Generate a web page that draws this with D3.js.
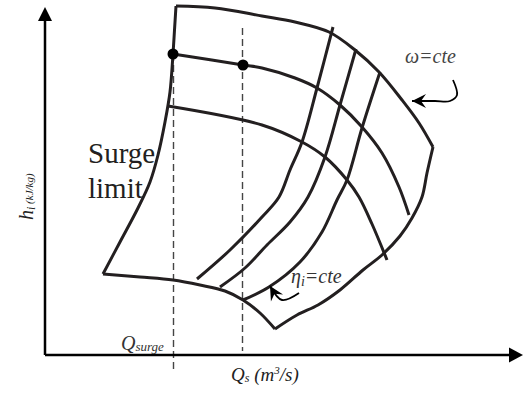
<!DOCTYPE html>
<html>
<head>
<meta charset="utf-8">
<script src="https://cdn.jsdelivr.net/npm/d3@7"></script>
<style>
  html, body { margin: 0; padding: 0; background: #fff; }
</style>
</head>
<body>
<svg id="map" width="524" height="394"></svg>
<script>
// compressor map, schematic units: Q (flow) and h (head)
var topSpeed = [[131,349],[170,347],[217,339],[250,333],[284,323],[310,305],[334,283],[357,255],[374,232],[388,208]];
var chokeEdge = [[388,208],[382,182],[377,158],[367,137],[355,119],[337,100],[318,85],[295,65],[273,50],[252,40],[230,26]];
var lowSpeed = [[230,26],[215,42],[198,55],[180,64],[155,70],[128,75],[95,78],[58,81]];
var surgeLine = [[58,81],[75,113],[93,147],[105,173],[113,200],[120,233],[125,263],[128,301],[129.5,325],[131,349]];

var speed1 = [[128,301],[198,290],[217,287],[250,277],[272,267],[295,250],[317,228],[337,202],[354,168],[364,140]];
var speed2 = [[123,249],[217,230],[257,213],[280,198],[302,175],[314,158],[327,131],[342,95]];

var etaA = [[152,76],[185,105],[217,138],[234,158],[245,185],[257,213],[272,267],[288,328]];
var etaB = [[175,68],[200,87],[222,110],[245,133],[263,158],[280,198],[295,250],[311,306]];
var etaC = [[198,55],[224,68],[255,93],[277,123],[292,155],[302,175],[317,227],[335,283]];

var points = [[128,301],[198,290]];
var qSurge = 128.5, qOp = 197.5;

var svg = d3.select("#map");
var x = d3.scaleLinear().domain([0, 480]).range([45, 525]);
var y = d3.scaleLinear().domain([0, 350]).range([355, 5]);
var ink = "#231f20";

var line = d3.line()
  .x(function(d) { return x(d[0]); })
  .y(function(d) { return y(d[1]); })
  .curve(d3.curveCatmullRom.alpha(0.5));

// dashed guides
svg.append("line").attr("x1", x(qSurge)).attr("x2", x(qSurge)).attr("y1", y(301)).attr("y2", y(-15))
  .attr("stroke", "#444").attr("stroke-width", 1.4).attr("stroke-dasharray", "7,4");
svg.append("line").attr("x1", x(qOp)).attr("x2", x(qOp)).attr("y1", y(327)).attr("y2", y(4))
  .attr("stroke", "#444").attr("stroke-width", 1.4).attr("stroke-dasharray", "7,4");

// axes
svg.append("line").attr("x1", x(0)).attr("y1", y(0)).attr("x2", x(0)).attr("y2", y(335))
  .attr("stroke", "#000").attr("stroke-width", 2.5);
svg.append("line").attr("x1", x(0)).attr("y1", y(0)).attr("x2", x(466)).attr("y2", y(0))
  .attr("stroke", "#000").attr("stroke-width", 2.5);
svg.append("path")
  .attr("d", "M" + x(0) + "," + y(348) + "L" + (x(0) - 7) + "," + y(334) + "L" + (x(0) + 7) + "," + y(334) + "Z")
  .attr("fill", "#000");
svg.append("path")
  .attr("d", "M" + x(478) + "," + y(0) + "L" + x(464) + "," + (y(0) - 7.5) + "L" + x(464) + "," + (y(0) + 7.5) + "Z")
  .attr("fill", "#000");

// map lines
[topSpeed, chokeEdge, lowSpeed, surgeLine, speed1, speed2, etaA, etaB, etaC].forEach(function(s) {
  svg.append("path").attr("d", line(s))
    .attr("fill", "none").attr("stroke", ink).attr("stroke-width", 3)
    .attr("stroke-linejoin", "round");
});

svg.selectAll("circle.op").data(points).enter().append("circle")
  .attr("cx", function(d) { return x(d[0]); })
  .attr("cy", function(d) { return y(d[1]); })
  .attr("r", 5.5).attr("fill", "#000");

// annotation arrows
function arrow(pts, ang) {
  svg.append("path").attr("d", line(pts)).attr("fill", "none")
    .attr("stroke", "#000").attr("stroke-width", 1.8);
  var tip = pts[pts.length - 1];
  svg.append("path").attr("d", "M0,0L-14,-7L-9,0L-14,7Z").attr("fill", "#000")
    .attr("transform", "translate(" + x(tip[0]) + "," + y(tip[1]) + ") rotate(" + ang + ")");
}
arrow([[408,275],[412,260],[405,254],[390,254],[367,254]], 180);
arrow([[254,62],[237,55],[225,69]], -120);

// labels
function label(px, py, size, fill, italic) {
  return svg.append("text").attr("x", px).attr("y", py)
    .style("font-family", "'Liberation Serif'").style("font-size", size + "px")
    .style("font-style", italic ? "italic" : "normal").attr("fill", fill);
}
label(88, 163, 29, ink, false).text("Surge");
label(88, 198, 29, ink, false).text("limit");

label(405, 63, 20, "#444", true).text("\u03c9=cte");

var eta = label(291, 283, 20, "#333", true);
eta.append("tspan").text("\u03b7");
eta.append("tspan").style("font-size", "14px").attr("dy", 3).text("i");
eta.append("tspan").attr("dy", -3).text("=cte");

var qs = label(121, 350, 20, "#333", true);
qs.append("tspan").text("Q");
qs.append("tspan").style("font-size", "13px").attr("dy", 1).text("surge");

var qx = label(231, 381, 19, "#222", true);
qx.append("tspan").text("Q");
qx.append("tspan").style("font-size", "12px").attr("dy", 1).text("s");
qx.append("tspan").attr("dy", -1).text(" (m");
qx.append("tspan").style("font-size", "11px").attr("dy", -7).text("3");
qx.append("tspan").attr("dy", 7).text("/s)");

var hy = svg.append("text").attr("transform", "translate(33,220) rotate(-90)")
  .style("font-family", "'Liberation Serif'").style("font-size", "20px")
  .style("font-style", "italic").attr("fill", "#222");
hy.append("tspan").text("h");
hy.append("tspan").style("font-size", "12px").attr("dy", 2).text("i");
hy.append("tspan").style("font-size", "11px").attr("dy", -2).text(" (kJ/kg)");
</script>
</body>
</html>
